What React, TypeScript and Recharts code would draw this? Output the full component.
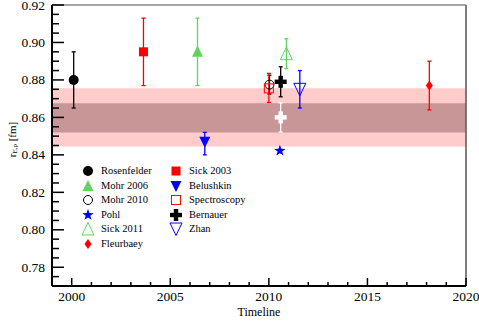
import React from "react";
import {
  ScatterChart,
  Scatter,
  XAxis,
  YAxis,
  ErrorBar,
  ReferenceArea,
  ReferenceLine,
  Legend,
  Label,
} from "recharts";

// one entry per measurement
const names = [
  "Rosenfelder",
  "Sick 2003",
  "Mohr 2006",
  "Belushkin",
  "Mohr 2010",
  "Spectroscopy",
  "Pohl",
  "Bernauer",
  "Bernauer (white)",
  "Sick 2011",
  "Zhan",
  "Fleurbaey",
];
const years = [2000.1, 2003.64, 2006.38, 2006.75, 2010.03, 2010.0, 2010.56, 2010.6, 2010.6, 2010.89, 2011.57, 2018.14];
const radii = [0.88, 0.895, 0.895, 0.847, 0.8775, 0.8755, 0.8422, 0.879, 0.86, 0.894, 0.875, 0.877];
const errDown = [0.015, 0.018, 0.018, 0.007, 0.005, 0.0075, 0, 0.008, 0.0078, 0.008, 0.01, 0.013];
const errUp = [0.015, 0.018, 0.018, 0.005, 0.005, 0.008, 0, 0.008, 0.0078, 0.008, 0.01, 0.013];
const colors = ["#000000", "#ff0000", "#5ed45e", "#0000ff", "#000000", "#ff0000", "#0000ff", "#000000", "#ffffff", "#5ed45e", "#0000ff", "#ff0000"];
const kinds = ["dot", "square", "triUp", "triDown", "openCircle", "openSquare", "star", "plus", "plus", "openTriUp", "openTriDown", "diamond"];

const legendLeft = ["Rosenfelder", "Mohr 2006", "Mohr 2010", "Pohl", "Sick 2011", "Fleurbaey"];
const legendRight = ["Sick 2003", "Belushkin", "Spectroscopy", "Bernauer", "Zhan"];

const outerBand = [0.8445, 0.8756];
const innerBand = [0.852, 0.8676];

const yTicks = [
  0.77, 0.775, 0.78, 0.785, 0.79, 0.795, 0.8, 0.805, 0.81, 0.815, 0.82, 0.825, 0.83, 0.835, 0.84, 0.845,
  0.85, 0.855, 0.86, 0.865, 0.87, 0.875, 0.88, 0.885, 0.89, 0.895, 0.9, 0.905, 0.91, 0.915, 0.92,
];
const xMajor = [2000, 2005, 2010, 2015, 2020];
const xTicks = [
  1999, 2000, 2001, 2002, 2003, 2004, 2005, 2006, 2007, 2008, 2009, 2010, 2011, 2012, 2013, 2014, 2015,
  2016, 2017, 2018, 2019, 2020,
];

const X_DOMAIN = [1999, 2020];
const Y_DOMAIN = [0.77, 0.92];

// chart geometry
const W = 479;
const H = 322;
const MARGIN = { top: 5, right: 13, bottom: 0, left: 0 };
const Y_AXIS_W = 52;
const X_AXIS_H = 36;
const plotLeft = MARGIN.left + Y_AXIS_W;
const plotTop = MARGIN.top;
const plotW = W - MARGIN.left - MARGIN.right - Y_AXIS_W;
const plotH = H - MARGIN.top - MARGIN.bottom - X_AXIS_H;
const plotBottom = plotTop + plotH;
const xPerPx = (X_DOMAIN[1] - X_DOMAIN[0]) / plotW;
const yPerPx = (Y_DOMAIN[1] - Y_DOMAIN[0]) / plotH;
const toPxX = (v: number) => plotLeft + (v - X_DOMAIN[0]) / xPerPx;
const toPxY = (v: number) => plotBottom - (v - Y_DOMAIN[0]) / yPerPx;

const isYMajor = (v: number) => Math.round(v * 1000) % 20 === 0;

function starPoints(cx: number, cy: number, ro: number, ri: number) {
  const pts: string[] = [];
  for (let i = 0; i < 10; i++) {
    const r = i % 2 === 0 ? ro : ri;
    const a = -Math.PI / 2 + (i * Math.PI) / 5;
    pts.push(`${cx + r * Math.cos(a)},${cy + r * Math.sin(a)}`);
  }
  return pts.join(" ");
}

function Marker({ kind, cx, cy, color }: { kind: string; cx: number; cy: number; color: string }) {
  switch (kind) {
    case "dot":
      return <circle cx={cx} cy={cy} r={5} fill={color} />;
    case "square":
      return <rect x={cx - 4.5} y={cy - 4.5} width={9} height={9} fill={color} />;
    case "triUp":
      return <polygon points={`${cx},${cy - 6} ${cx + 5.5},${cy + 5} ${cx - 5.5},${cy + 5}`} fill={color} />;
    case "triDown":
      return <polygon points={`${cx},${cy + 6} ${cx + 5.5},${cy - 5} ${cx - 5.5},${cy - 5}`} fill={color} />;
    case "openCircle":
      return <circle cx={cx} cy={cy} r={4.5} fill="none" stroke={color} strokeWidth={1} />;
    case "openSquare":
      return <rect x={cx - 4.5} y={cy - 4.5} width={9} height={9} fill="none" stroke={color} strokeWidth={1} />;
    case "star":
      return <polygon points={starPoints(cx, cy, 6, 2.4)} fill={color} />;
    case "plus":
      return (
        <g fill={color}>
          <rect x={cx - 6} y={cy - 2.2} width={12} height={4.4} />
          <rect x={cx - 2.2} y={cy - 6} width={4.4} height={12} />
        </g>
      );
    case "openTriUp":
      return (
        <polygon
          points={`${cx},${cy - 6.5} ${cx + 6},${cy + 6} ${cx - 6},${cy + 6}`}
          fill="none"
          stroke={color}
          strokeWidth={1}
        />
      );
    case "openTriDown":
      return (
        <polygon
          points={`${cx},${cy + 6.5} ${cx + 6},${cy - 6} ${cx - 6},${cy - 6}`}
          fill="none"
          stroke={color}
          strokeWidth={1}
        />
      );
    case "diamond":
      return <polygon points={`${cx},${cy - 5} ${cx + 3.5},${cy} ${cx},${cy + 5} ${cx - 3.5},${cy}`} fill={color} />;
    default:
      return null;
  }
}

function YTick(props: any) {
  const v = Number(props.payload.value);
  if (!isYMajor(v)) return <g />;
  return (
    <text x={props.x} y={props.y} textAnchor="end" dominantBaseline="central" fontSize={13.5} fill="#000">
      {v.toFixed(2)}
    </text>
  );
}

function XTick(props: any) {
  const v = Number(props.payload.value);
  if (!xMajor.includes(v)) return <g />;
  return (
    <text x={props.x} y={props.y} textAnchor="middle" dominantBaseline="central" fontSize={13.5} fill="#000">
      {v}
    </text>
  );
}

function YLabel({ viewBox }: any) {
  const cx = viewBox.x + 12;
  const cy = viewBox.y + viewBox.height / 2 - 6;
  return (
    <text
      x={cx}
      y={cy}
      transform={`rotate(-90, ${cx}, ${cy})`}
      textAnchor="middle"
      dominantBaseline="central"
      fontSize={11}
      fill="#000"
    >
      <tspan>r</tspan>
      <tspan dy={3} fontSize={7}>
        E,p
      </tspan>
      <tspan dy={-3}> [fm]</tspan>
    </text>
  );
}

function XLabel({ viewBox }: any) {
  const cx = viewBox.x + viewBox.width / 2;
  return (
    <text x={cx} y={312} textAnchor="middle" dominantBaseline="central" fontSize={12} fill="#000">
      Timeline
    </text>
  );
}

function LegendBox() {
  const column = (list: string[]) => (
    <div style={{ width: 88 }}>
      {list.map((n) => {
        const i = names.indexOf(n);
        return (
          <div key={n} style={{ height: 14.5, display: "flex", alignItems: "center" }}>
            <svg width={20} height={14}>
              <Marker kind={kinds[i]} cx={10} cy={7} color={colors[i]} />
            </svg>
            <span style={{ marginLeft: 3, whiteSpace: "nowrap" }}>{n}</span>
          </div>
        );
      })}
    </div>
  );
  return (
    <div style={{ display: "flex", fontSize: 10.5, color: "#000", lineHeight: "14px" }}>
      {column(legendLeft)}
      {column(legendRight)}
    </div>
  );
}

// inward tick marks drawn over the chart
function TickOverlay() {
  return (
    <svg
      width={W}
      height={H}
      style={{ position: "absolute", left: 0, top: 0, pointerEvents: "none", zIndex: 5 }}
    >
      {yTicks.map((v) => (
        <line
          key={`y${v}`}
          x1={plotLeft}
          x2={plotLeft + (isYMajor(v) ? 12 : 7)}
          y1={toPxY(v)}
          y2={toPxY(v)}
          stroke="#000"
          strokeWidth={1.5}
        />
      ))}
      {xTicks.map((v) => (
        <line
          key={`x${v}`}
          x1={toPxX(v)}
          x2={toPxX(v)}
          y1={plotBottom}
          y2={plotBottom - (xMajor.includes(v) ? 8 : 4)}
          stroke="#000"
          strokeWidth={1.5}
        />
      ))}
    </svg>
  );
}

export default function App() {
  return (
    <div style={{ position: "absolute", left: 0, top: 0, width: W, height: H }}>
      <ScatterChart width={W} height={H} margin={MARGIN}>
        <ReferenceArea y1={outerBand[0]} y2={outerBand[1]} fill="#ffcccc" fillOpacity={1} stroke="none" />
        <ReferenceArea y1={innerBand[0]} y2={innerBand[1]} fill="#c89696" fillOpacity={1} stroke="none" />
        <ReferenceLine y={Y_DOMAIN[1]} stroke="#888" strokeWidth={1.5} />
        <ReferenceLine x={X_DOMAIN[1]} stroke="#555" strokeWidth={1.5} />
        <XAxis
          type="number"
          dataKey="x"
          domain={X_DOMAIN}
          ticks={xTicks}
          interval={0}
          tickSize={0}
          tickMargin={10}
          tickLine={false}
          tick={<XTick />}
          axisLine={{ stroke: "#000", strokeWidth: 2 }}
          height={X_AXIS_H}
          allowDataOverflow
        >
          <Label content={<XLabel />} />
        </XAxis>
        <YAxis
          type="number"
          dataKey="y"
          domain={Y_DOMAIN}
          ticks={yTicks}
          interval={0}
          tickSize={0}
          tickMargin={7}
          tickLine={false}
          tick={<YTick />}
          axisLine={{ stroke: "#000", strokeWidth: 2 }}
          width={Y_AXIS_W}
          allowDataOverflow
        >
          <Label content={<YLabel />} />
        </YAxis>
        <Legend
          layout="vertical"
          align="center"
          verticalAlign="middle"
          wrapperStyle={{ left: 78, top: 163.75, width: "auto", height: "auto" }}
          content={<LegendBox />}
        />
        {names.map((n, i) => (
          <Scatter
            key={n}
            name={n}
            data={[{ x: years[i], y: radii[i], err: [errDown[i], errUp[i]] }]}
            isAnimationActive={false}
            shape={(p: any) => <Marker kind={kinds[i]} cx={p.cx} cy={p.cy} color={colors[i]} />}
          >
            {errUp[i] > 0 && (
              <ErrorBar dataKey="err" direction="y" width={2} stroke={colors[i]} strokeWidth={1.3} />
            )}
          </Scatter>
        ))}
      </ScatterChart>
      <TickOverlay />
    </div>
  );
}
